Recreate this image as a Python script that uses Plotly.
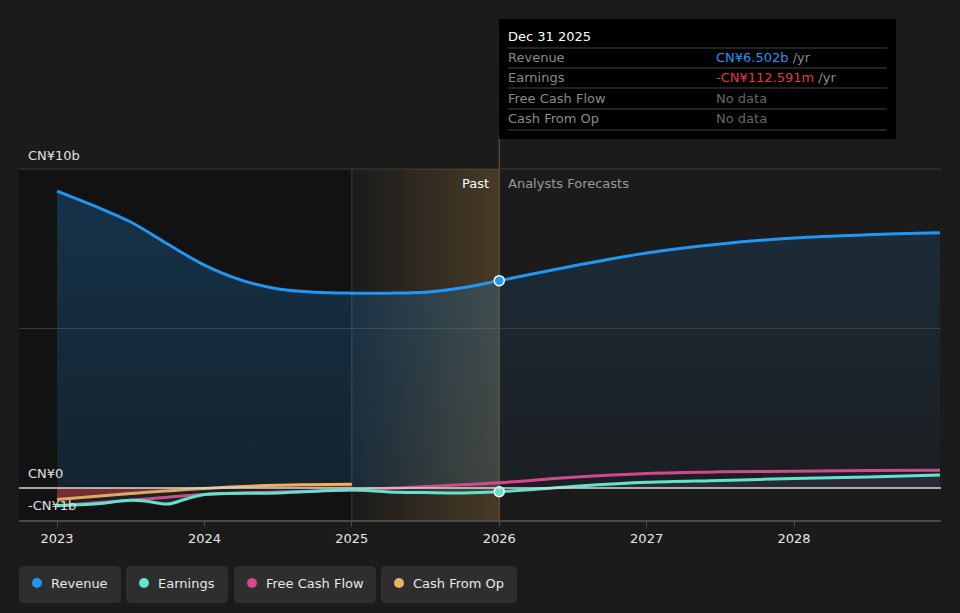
import plotly.graph_objects as go

# ---------------- data (CN¥ billions) ----------------
rev_x = [2023.0, 2023.25, 2023.5, 2023.75, 2024.0, 2024.25, 2024.5, 2024.75, 2025.0, 2025.25, 2025.5, 2025.75, 2026.0,
         2026.5, 2027.0, 2027.5, 2028.0, 2028.5, 2028.99]
rev_y = [9.31, 8.85, 8.34, 7.65, 6.99, 6.52, 6.24, 6.14, 6.11, 6.11, 6.14, 6.28, 6.502,
         6.96, 7.37, 7.65, 7.84, 7.94, 8.0]

earn_x = [2023.0, 2023.25, 2023.5, 2023.62, 2023.75, 2023.87, 2024.0, 2024.5, 2025.0, 2025.25, 2025.5, 2025.75,
          2026.0, 2026.5, 2027.0, 2027.5, 2028.0, 2028.5, 2028.99]
earn_y = [-0.55, -0.5, -0.38, -0.42, -0.5, -0.35, -0.2, -0.15, -0.06, -0.12, -0.14, -0.15,
          -0.1126, 0.05, 0.18, 0.24, 0.3, 0.35, 0.41]

fcf_x = [2023.0, 2023.5, 2024.0, 2024.5, 2025.0, 2025.5, 2026.0, 2026.5, 2027.0, 2027.5, 2028.0, 2028.5, 2028.99]
fcf_y = [-0.55, -0.38, -0.2, -0.12, -0.06, 0.05, 0.17, 0.34, 0.46, 0.51, 0.53, 0.55, 0.56]

cfo_x = [2023.0, 2023.5, 2024.0, 2024.5, 2025.0]
cfo_y = [-0.36, -0.17, -0.01, 0.09, 0.12]

years = [2023, 2024, 2025, 2026, 2027, 2028]
year_labels = ["2023", "2024", "2025", "2026", "2027", "2028"]

series_names = ["Revenue", "Earnings", "Free Cash Flow", "Cash From Op"]
series_colors = ["#2196f3", "#62e3cf", "#d04a8f", "#eab35c"]

# ---------------- layout geometry (pixels) ----------------
W, H = 960, 613
L, R, T, B = 19, 941, 140, 520
X0, X1 = 2022.742, 2028.997
Y0, Y1 = -1.0, 10.91
SPLIT = 2026.0


def px2x(px):
    return (px - L) / (R - L)


def py2y(py):
    return (B - py) / (B - T)


FONT = "DejaVu Sans"
fig = go.Figure()

# Past-year highlight band (horizontal gradient, raster)
NB = 60
band_edges = [2025 + i / NB for i in range(NB + 1)]
band_ramp = [i / (NB - 1) for i in range(NB)]
fig.add_trace(go.Heatmap(
    x=band_edges, y=[Y0, 10.0], z=[band_ramp],
    colorscale=[[0, "rgba(200,150,70,0.0)"], [1, "rgba(200,150,70,0.26)"]],
    showscale=False, hoverinfo="skip"))

# Revenue fills (past stronger, forecast lighter)
past_idx = [i for i, v in enumerate(rev_x) if v <= SPLIT]
fut_idx = [i for i, v in enumerate(rev_x) if v >= SPLIT]
fig.add_trace(go.Scatter(
    x=[rev_x[i] for i in past_idx], y=[rev_y[i] for i in past_idx], mode="lines",
    line=dict(width=0, shape="spline"), fill="tozeroy",
    fillgradient=dict(type="vertical",
                      colorscale=[[0, "rgba(33,150,243,0.13)"], [1, "rgba(33,150,243,0.24)"]]),
    hoverinfo="skip", showlegend=False))
fig.add_trace(go.Scatter(
    x=[rev_x[i] for i in fut_idx], y=[rev_y[i] for i in fut_idx], mode="lines",
    line=dict(width=0, shape="spline"), fill="tozeroy",
    fillgradient=dict(type="vertical",
                      colorscale=[[0, "rgba(33,150,243,0.03)"], [1, "rgba(33,150,243,0.13)"]]),
    hoverinfo="skip", showlegend=False))
fig.add_trace(go.Scatter(
    x=rev_x, y=rev_y, mode="lines", line=dict(color=series_colors[0], width=3, shape="spline"),
    hoverinfo="skip", showlegend=False))

# Cash from op (with red negative fill)
fig.add_trace(go.Scatter(
    x=cfo_x, y=cfo_y, mode="lines", line=dict(color=series_colors[3], width=3, shape="spline"),
    fill="tozeroy", fillcolor="rgba(200,45,45,0.55)",
    hoverinfo="skip", showlegend=False))

# Free cash flow
fig.add_trace(go.Scatter(
    x=fcf_x, y=fcf_y, mode="lines", line=dict(color=series_colors[2], width=3, shape="spline"),
    hoverinfo="skip", showlegend=False))

# Earnings
fig.add_trace(go.Scatter(
    x=earn_x, y=earn_y, mode="lines", line=dict(color=series_colors[1], width=3, shape="spline"),
    fill="tozeroy", fillcolor="rgba(120,120,140,0.14)",
    hoverinfo="skip", showlegend=False))

# markers at Dec 31 2025
fig.add_trace(go.Scatter(
    x=[rev_x[12]], y=[rev_y[12]], mode="markers",
    marker=dict(size=10, color=series_colors[0], line=dict(color="white", width=1.5)),
    hoverinfo="skip", showlegend=False))
fig.add_trace(go.Scatter(
    x=[earn_x[12]], y=[earn_y[12]], mode="markers",
    marker=dict(size=10, color=series_colors[1], line=dict(color="white", width=1.5)),
    hoverinfo="skip", showlegend=False))

shapes = []
# dark past background
shapes.append(dict(type="rect", xref="x", yref="y", x0=X0, x1=2025, y0=Y0, y1=10,
                   fillcolor="#121212", line_width=0, layer="below"))
# gridlines
for gv in [5, 10]:
    shapes.append(dict(type="line", xref="x", yref="y", x0=X0, x1=X1, y0=gv, y1=gv,
                       line=dict(color="#3a3a3a", width=1), layer="below"))
# zero line
shapes.append(dict(type="line", xref="x", yref="y", x0=X0, x1=X1, y0=0, y1=0,
                   line=dict(color="#d8d8d8", width=1.5), layer="above"))
# vertical markers
shapes.append(dict(type="line", xref="x", yref="y", x0=2025, x1=2025, y0=Y0, y1=10,
                   line=dict(color="#41403a", width=1), layer="below"))
shapes.append(dict(type="line", xref="x", yref="paper", x0=2026, x1=2026, y0=0, y1=py2y(130),
                   line=dict(color="#6e5c3c", width=1), layer="below"))

# tooltip box
shapes.append(dict(type="rect", xref="paper", yref="paper",
                   x0=px2x(499), x1=px2x(896), y0=py2y(139), y1=py2y(19),
                   fillcolor="#000000", line_width=0, layer="above"))
for sy in [48, 68, 88, 109, 130]:
    shapes.append(dict(type="line", xref="paper", yref="paper",
                       x0=px2x(508), x1=px2x(887), y0=py2y(sy), y1=py2y(sy),
                       line=dict(color="#444444", width=1), layer="above"))

annotations = []
annotations.append(dict(xref="paper", yref="paper", x=px2x(506), y=py2y(36), xanchor="left", yanchor="middle",
                        text="Dec 31 2025", showarrow=False, font=dict(family=FONT, size=13, color="#ffffff")))
tip_rows = [
    ("Revenue", "<span style='color:#2196f3'>CN¥6.502b</span> /yr", 57),
    ("Earnings", "<span style='color:#e53935'>-CN¥112.591m</span> /yr", 77),
    ("Free Cash Flow", "No data", 98),
    ("Cash From Op", "No data", 118),
]
for lab, val, yy in tip_rows:
    annotations.append(dict(xref="paper", yref="paper", x=px2x(506), y=py2y(yy), xanchor="left", yanchor="middle",
                            text=lab, showarrow=False, font=dict(family=FONT, size=13, color="#8a8a8a")))
    vcol = "#8a8a8a" if val != "No data" else "#666666"
    annotations.append(dict(xref="paper", yref="paper", x=px2x(714), y=py2y(yy), xanchor="left", yanchor="middle",
                            text=val, showarrow=False, font=dict(family=FONT, size=13, color=vcol)))

# past / forecast labels
annotations.append(dict(xref="paper", yref="paper", x=px2x(491), y=py2y(183), xanchor="right", yanchor="middle",
                        text="Past", showarrow=False, font=dict(family=FONT, size=13, color="#ffffff")))
annotations.append(dict(xref="paper", yref="paper", x=px2x(506), y=py2y(183), xanchor="left", yanchor="middle",
                        text="Analysts Forecasts", showarrow=False, font=dict(family=FONT, size=13, color="#9a9a9a")))

# y labels
for txt, yy in [("CN¥10b", 155), ("CN¥0", 473), ("-CN¥1b", 505)]:
    annotations.append(dict(xref="paper", yref="paper", x=px2x(26), y=py2y(yy), xanchor="left", yanchor="middle",
                            text=txt, showarrow=False, font=dict(family=FONT, size=13, color="#e0e0e0")))

# custom legend
boxes = [(19, 121), (126, 228), (234, 376), (381, 517)]
by0, by1 = 566, 603
r = 5
for (bx0, bx1), name, col in zip(boxes, series_names, series_colors):
    rr = 5
    path = (f"M {px2x(bx0+rr)} {py2y(by0)} L {px2x(bx1-rr)} {py2y(by0)} "
            f"Q {px2x(bx1)} {py2y(by0)} {px2x(bx1)} {py2y(by0+rr)} "
            f"L {px2x(bx1)} {py2y(by1-rr)} Q {px2x(bx1)} {py2y(by1)} {px2x(bx1-rr)} {py2y(by1)} "
            f"L {px2x(bx0+rr)} {py2y(by1)} Q {px2x(bx0)} {py2y(by1)} {px2x(bx0)} {py2y(by1-rr)} "
            f"L {px2x(bx0)} {py2y(by0+rr)} Q {px2x(bx0)} {py2y(by0)} {px2x(bx0+rr)} {py2y(by0)} Z")
    shapes.append(dict(type="path", xref="paper", yref="paper", path=path,
                       fillcolor="#2e2e2e", line_width=0, layer="above"))
    cx, cy = bx0 + 18, 583
    shapes.append(dict(type="circle", xref="paper", yref="paper",
                       x0=px2x(cx - r), x1=px2x(cx + r), y0=py2y(cy + r), y1=py2y(cy - r),
                       fillcolor=col, line_width=0, layer="above"))
    annotations.append(dict(xref="paper", yref="paper", x=px2x(bx0 + 30), y=py2y(583), xanchor="left",
                            yanchor="middle", text=name, showarrow=False,
                            font=dict(family=FONT, size=13, color="#e8e8e8")))

fig.update_layout(
    width=W, height=H,
    margin=dict(l=L, r=W - R, t=T, b=H - B),
    paper_bgcolor="#1b1b1b", plot_bgcolor="#1b1b1b",
    shapes=shapes, annotations=annotations,
    showlegend=False, hovermode=False,
    xaxis=dict(range=[X0, X1], tickvals=years, ticktext=year_labels, showgrid=False, zeroline=False,
               showline=True, linecolor="#4a4a4a", linewidth=2, ticks="outside", tickcolor="#4a4a4a",
               ticklen=5, tickwidth=1, tickfont=dict(family=FONT, size=13, color="#e8e8e8")),
    yaxis=dict(range=[Y0, Y1], showgrid=False, zeroline=False, showticklabels=False, showline=False),
    font=dict(family=FONT),
)

fig.write_html("out.html", config={"displayModeBar": False},
               post_script="document.body.style.margin='0';document.body.style.background='#1b1b1b';")
